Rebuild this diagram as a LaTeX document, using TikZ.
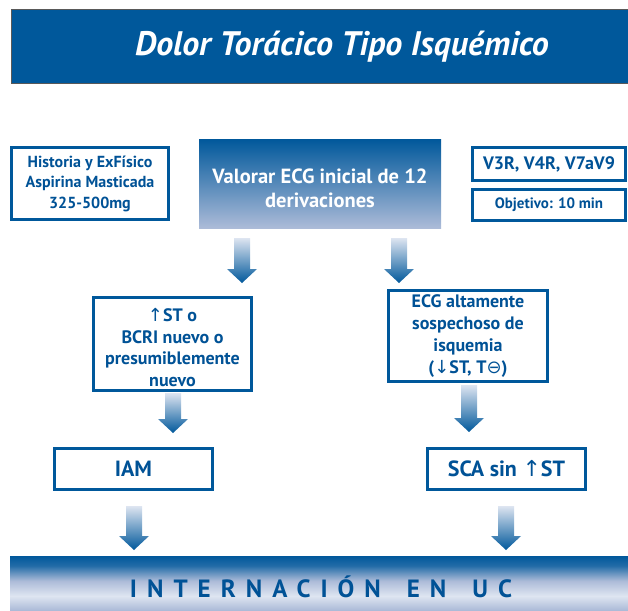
\documentclass[tikz,border=0pt]{standalone}
\usepackage{fontspec}
\setmainfont{PT Sans}
\newfontfamily\symf{DejaVu Sans}
\usetikzlibrary{calc}
\definecolor{dblue}{RGB}{0,88,155}
\definecolor{tblue}{RGB}{0,82,150}
\definecolor{lblue}{RGB}{172,187,216}
\definecolor{pblue}{RGB}{222,229,241}
\pgfdeclareverticalshading{barshade}{100bp}{color(0bp)=(lblue); color(25bp)=(lblue); color(38bp)=(pblue); color(52bp)=(lblue); color(66bp)=(dblue!80!lblue); color(75bp)=(dblue); color(100bp)=(dblue)}
\newcommand\blockarrow[2]{%
  \shade[top color=pblue, bottom color=dblue]
    ($(#1)+(-8,0)$) -- ($(#2)+(-8,-14)$) -- ($(#2)+(-15,-14)$) -- (#2)
    -- ($(#2)+(15,-14)$) -- ($(#2)+(8,-14)$) -- ($(#1)+(8,0)$) -- cycle;}
\tikzset{
  wbox/.style={draw=dblue, line width=3pt, fill=white, text=tblue,
    font=\bfseries\fontsize{16}{20.5}\selectfont, align=center, inner sep=0pt},
}
\newcommand\arr[1]{{\symf\mdseries #1}}
\begin{document}
\begin{tikzpicture}[x=1pt,y=-1pt]
\useasboundingbox (0,0) rectangle (628,610);
% title bar
\node[fill=dblue, draw=black!65, line width=1pt, minimum width=618pt, minimum height=73pt, inner sep=0pt] (titlebar) at (320,46.5) {};
\node[text=white, font=\bfseries\itshape\fontsize{34}{36}\selectfont, inner sep=0pt] (title) at (342,47) {Dolor Torácico Tipo Isquémico};
% top row
\node[wbox, minimum width=157pt, minimum height=72pt] (hist) at (90,183.5)
  {Historia y ExFísico\\Aspirina Masticada\\325-500mg};
\node[top color=dblue, bottom color=lblue, minimum width=242pt, minimum height=89pt, inner sep=0pt] (ecg) at (320,183.5) {};
\node[text=white, font=\bfseries\fontsize{20.5}{24}\selectfont, align=center, inner sep=0pt] (ecgtxt) at (320,188)
  {Valorar ECG inicial de 12\\derivaciones};
\node[wbox, font=\bfseries\fontsize{18}{20}\selectfont, minimum width=153pt, minimum height=33pt] (leads) at (549,164)
  {V3R, V4R, V7aV9};
\node[wbox, font=\bfseries\fontsize{15}{18}\selectfont, minimum width=153pt, minimum height=31pt] (obj) at (549,204.5)
  {Objetivo: 10 min};
% middle row
\node[wbox, minimum width=158pt, minimum height=93pt] (stup) at (172.5,344) {};
\node[text=tblue, font=\bfseries\fontsize{18}{21.7}\selectfont, align=center, inner sep=0pt] (stuptxt) at (172.5,347.5)
  {\arr{↑}ST o\\BCRI nuevo o\\presumiblemente\\nuevo};
\node[wbox, font=\bfseries\fontsize{18}{21.7}\selectfont, minimum width=159pt, minimum height=91pt] (isq) at (468,336)
  {ECG altamente\\sospechoso de\\isquemia\\(\arr{↓}ST, T\arr{⊖})};
% lower row
\node[wbox, font=\bfseries\fontsize{22}{24}\selectfont, minimum width=158pt, minimum height=41pt] (iam) at (133.5,469) {IAM};
\node[wbox, font=\bfseries\fontsize{22}{24}\selectfont, minimum width=158pt, minimum height=41pt] (sca) at (506.5,469)
  {SCA sin \arr{↑}ST};
% bottom bar
\node[shading=barshade, minimum width=618pt, minimum height=54pt, inner sep=0pt] (uc) at (319,583) {};
\node[text=tblue, font=\bfseries\fontsize{25}{27}\selectfont\addfontfeature{LetterSpace=40}, inner sep=0pt] (uctxt) at (321,587)
  {INTERNACIÓN\hspace{26pt}EN\hspace{26pt}UC};
% arrows
\coordinate (a1s) at (242,238); \coordinate (a1e) at (242,283);
\coordinate (a2s) at (399,238); \coordinate (a2e) at (399,283);
\coordinate (a3s) at (173,393); \coordinate (a3e) at (173,433);
\coordinate (a4s) at (469,385); \coordinate (a4e) at (469,432);
\coordinate (a5s) at (134,506); \coordinate (a5e) at (134,550);
\coordinate (a6s) at (506,506); \coordinate (a6e) at (506,550);
\blockarrow{a1s}{a1e}
\blockarrow{a2s}{a2e}
\blockarrow{a3s}{a3e}
\blockarrow{a4s}{a4e}
\blockarrow{a5s}{a5e}
\blockarrow{a6s}{a6e}
\end{tikzpicture}
\end{document}
